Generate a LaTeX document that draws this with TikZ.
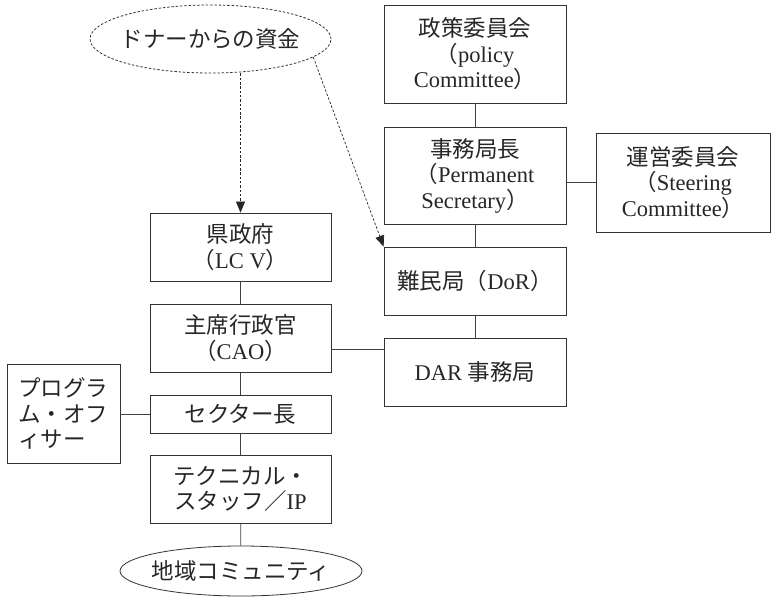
\documentclass[tikz,border=0pt]{standalone}
\usepackage{fontspec}
\setmainfont{Liberation Serif}
\newfontfamily\jp{Noto Sans CJK JP}
\usetikzlibrary{shapes.geometric,arrows.meta}
\begin{document}
\begin{tikzpicture}[x=1pt,y=-1pt,
  txt/.style={font=\fontsize{22.5}{25.5}\selectfont, text=black!85},
  box/.style={txt, draw=black!80, line width=0.8pt, inner sep=0pt, align=center},
  lbox/.style={box, minimum width=181pt, minimum height=68pt},
  rbox/.style={box, minimum width=182pt},
  oval/.style={txt, ellipse, draw=black!80, line width=0.8pt, inner ysep=0pt, inner xsep=-6pt},
  link/.style={draw=black!75, line width=0.8pt},
  flow/.style={draw=black!85, line width=0.7pt, dash pattern=on 2.5pt off 1.8pt, -{Triangle[length=11pt,width=9pt]}}]
\useasboundingbox (0,0) rectangle (772,598);

% top oval
\node[oval, dash pattern=on 2.5pt off 1.8pt, minimum width=241pt, minimum height=68pt] (donor) at (210.5,39) {\jp ドナーからの資金};

% right column
\node[rbox, minimum height=98pt] (policy) at (475,54) {{\jp 政策委員会}\\{\jp （}policy\\Committee{\jp ）}};
\node[rbox, minimum height=97pt] (ps) at (475,175.5) {{\jp 事務局長}\\{\jp （}Permanent\\Secretary{\jp ）}};
\node[box, minimum width=174pt, minimum height=99pt] (steer) at (683,182.5) {{\jp 運営委員会}\\{\jp （}Steering\\Committee{\jp ）}};
\node[rbox, minimum height=68pt] (dor) at (475,281) {{\jp 難民局（}DoR{\jp ）}};
\node[rbox, minimum height=68pt] (dar) at (475,372) {DAR {\jp 事務局}};

% left column
\node[lbox] (ken) at (240.5,247) {{\jp 県政府}\\{\jp （}LC V{\jp ）}};
\node[lbox] (cao) at (240.5,338) {{\jp 主席行政官}\\{\jp （}CAO{\jp ）}};
\node[box, minimum width=181pt, minimum height=38pt] (sec) at (240.5,414) {\jp セクター長};
\node[box, align=left, minimum width=113pt, minimum height=99pt] (prog) at (63.5,413.5) {\jp プログラ\\\jp ム・オフ\\\jp ィサー};
\node[lbox] (tech) at (240.5,489) {\jp テクニカル・\\{\jp スタッフ／}IP};
\node[oval, minimum width=242pt, minimum height=50pt] (comm) at (241,571) {\jp 地域コミュニティ};

% connectors
\draw[link] (policy) -- (ps);
\draw[link] (ps) -- (dor);
\draw[link] (dor) -- (dar);
\draw[link] (steer.west) -- (steer.west -| ps.east);
\draw[link] (ken) -- (cao);
\draw[link] (cao) -- (sec);
\draw[link] (sec) -- (tech);
\draw[link] (tech) -- (comm);
\draw[link] (prog.east |- sec.west) -- (sec.west);
\draw[link] ([yshift=-11pt]cao.east) -- ([yshift=-11pt]cao.east -| dar.west);

% funding arrows
\draw[flow] (ken.north |- donor.south) -- (ken.north);
\draw[flow] (donor.-10) -- (dor.north west);
\end{tikzpicture}
\end{document}
